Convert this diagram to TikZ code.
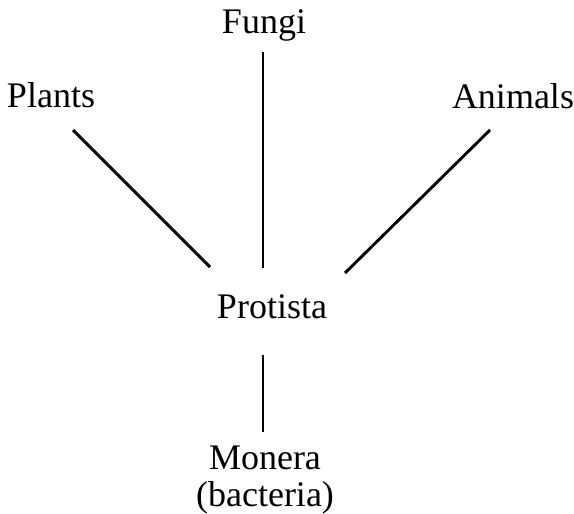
\documentclass[tikz,border=0pt]{standalone}
\usepackage{fontspec}
\setmainfont{Liberation Serif}
\begin{document}
\begin{tikzpicture}[x=1pt,y=-1pt,
  lbl/.style={anchor=base, inner sep=0pt, font=\fontsize{36}{37}\selectfont, align=center},
  link/.style={line width=2.9pt}]
\useasboundingbox (0,0) rectangle (574,514);
\node[lbl] (fungi) at (264,33) {Fungi};
\node[lbl] (plants) at (51,107) {Plants};
\node[lbl] (animals) at (513,108) {Animals};
\node[lbl] (protista) at (272,318) {Protista};
\node[lbl, anchor=north] (monera) at (265,446) {Monera\\(bacteria)};
\coordinate (f1) at (263,52);
\coordinate (f2) at (263,268);
\coordinate (p1) at (73,130);
\coordinate (p2) at (210,267);
\coordinate (a1) at (490,130);
\coordinate (a2) at (345,273);
\coordinate (m1) at (263,355);
\coordinate (m2) at (263,432);
\draw[link] (f1) -- (f2);
\draw[link] (p1) -- (p2);
\draw[link] (a1) -- (a2);
\draw[link] (m1) -- (m2);
\end{tikzpicture}
\end{document}
